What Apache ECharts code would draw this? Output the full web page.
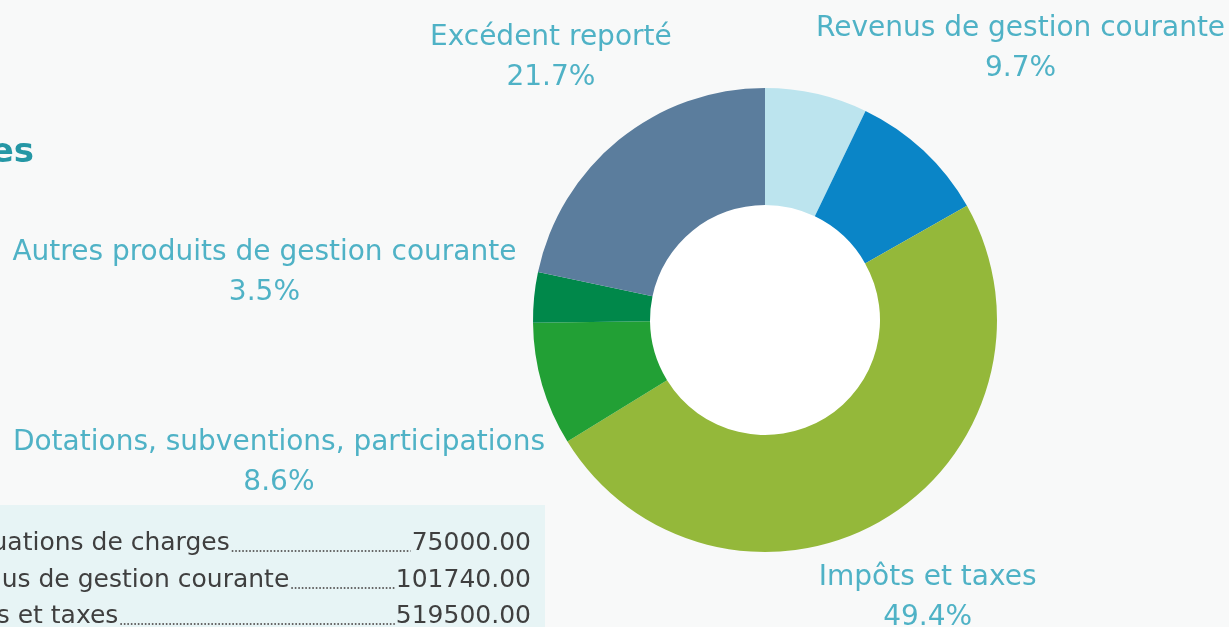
<!DOCTYPE html>
<html><head><meta charset="utf-8">
<script src="https://cdn.jsdelivr.net/npm/echarts@6/dist/echarts.min.js"></script>
<style>html,body{margin:0;padding:0;background:#f8f9f9;}#c{width:1229px;height:627px;}</style>
</head><body><div id="c"></div>
<script>
// ---- data ----
const categories = ['Atténuations de charges', 'Revenus de gestion courante', 'Impôts et taxes',
  'Dotations, subventions, participations', 'Autres produits de gestion courante', 'Excédent reporté'];
const values = [75000, 101740, 519500, 90369, 36778, 228024];
const tableRows = [0, 1, 2]; // indices of categories visible in the table
const headingText = 'Recettes';

// ---- style ----
const colors = ['#bce4ee', '#0a85c7', '#94b83a', '#22a035', '#00884a', '#5b7d9d'];
const labelDist = [0, 374, 320, 506, 503, 340];
const labelShown = [false, true, true, true, true, true];
const CX = 765, CY = 320, R_IN = 115, R_OUT = 232;
const labelColor = '#4fb2c6';
const FONT = "'DejaVu Sans', sans-serif";

const total = values.reduce((a, b) => a + b, 0);
const midAngles = [];
{ let acc = 0; values.forEach(v => { midAngles.push((acc + v / 2) / total * 2 * Math.PI); acc += v; }); }

const chart = echarts.init(document.getElementById('c'), null, { renderer: 'canvas' });

// table graphics
const ctx = document.createElement('canvas').getContext('2d');
const tFont = '25px ' + FONT;
ctx.font = tFont;
const graphics = [
  { type: 'rect', shape: { x: 0, y: 505, width: 545, height: 130 }, style: { fill: '#e7f4f5' }, z: 0 },
  { type: 'circle', shape: { cx: CX, cy: CY, r: R_IN + 1 }, style: { fill: '#ffffff' }, z: 0 },
  { type: 'text', x: 34, y: 153, style: { text: headingText, font: 'bold 34px ' + FONT, fill: '#2597a5', align: 'right', verticalAlign: 'middle' } }
];
const rowY = [543, 580, 616];
const nameLeft = -76, valRight = 531;
tableRows.forEach((ci, r) => {
  const name = categories[ci];
  const val = values[ci].toFixed(2);
  const nw = ctx.measureText(name).width;
  const vw = ctx.measureText(val).width;
  const y = rowY[r];
  graphics.push({ type: 'text', x: nameLeft, y: y, style: { text: name, font: tFont, fill: '#3f3f3f', align: 'left', verticalAlign: 'middle' } });
  graphics.push({ type: 'text', x: valRight, y: y, style: { text: val, font: tFont, fill: '#3f3f3f', align: 'right', verticalAlign: 'middle' } });
  graphics.push({ type: 'line', shape: { x1: nameLeft + nw + 2, y1: y + 8, x2: valRight - vw - 1, y2: y + 8 },
    style: { stroke: '#666', lineWidth: 1.8, lineDash: [1.6, 1.9] } });
});

chart.setOption({
  backgroundColor: '#f8f9f9',
  animation: false,
  graphic: graphics,
  series: [{
    type: 'pie',
    center: [CX, CY],
    radius: [R_IN, R_OUT],
    startAngle: 90,
    clockwise: true,
    avoidLabelOverlap: false,
    z: 2,
    data: categories.map((n, i) => ({ name: n, value: values[i], itemStyle: { color: colors[i] },
      label: { show: labelShown[i] } })),
    itemStyle: { borderWidth: 0 },
    label: {
      position: 'outside',
      formatter: p => p.name + '\n' + (p.value / total * 100).toFixed(1) + '%',
      color: labelColor,
      fontFamily: FONT,
      fontSize: 28,
      lineHeight: 40,
      align: 'center'
    },
    labelLine: { show: false },
    labelLayout: p => {
      const i = p.dataIndex;
      const a = midAngles[i], d = labelDist[i];
      return { x: CX + d * Math.sin(a), y: CY - d * Math.cos(a) + 2, align: 'center', verticalAlign: 'middle' };
    },
    emphasis: { disabled: true }
  }]
});
</script></body></html>
